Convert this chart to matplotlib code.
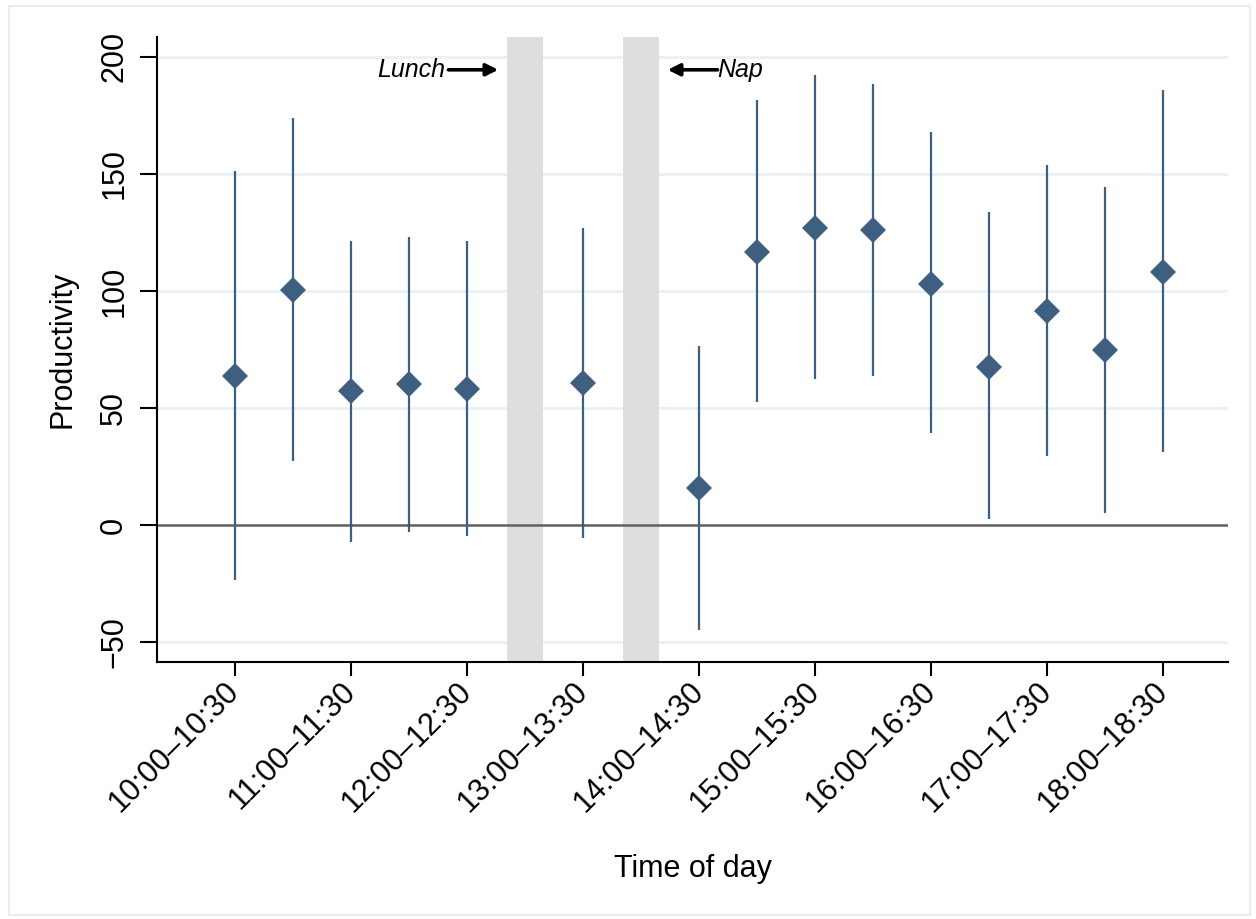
import numpy as np
import matplotlib
matplotlib.use("Agg")
import matplotlib.pyplot as plt
from matplotlib.patches import Rectangle

# half-hour slots (hours as floats); 12:30 and 13:30 have no estimate
slot = [10.0, 10.5, 11.0, 11.5, 12.0, 13.0, 14.0, 14.5, 15.0, 15.5,
        16.0, 16.5, 17.0, 17.5, 18.0]
coef = [63.7, 100.4, 57.3, 60.3, 58.1, 60.7, 15.8, 116.7, 126.9, 126.1,
        103.0, 67.5, 91.5, 74.8, 108.1]
ci_hi = [151.3, 173.9, 121.4, 123.1, 121.4, 126.9, 76.5, 181.6, 192.3, 188.5,
         168.0, 133.8, 153.8, 144.4, 185.9]
ci_lo = [-23.5, 27.4, -7.3, -3.0, -4.7, -5.6, -44.9, 52.6, 62.4, 63.7,
         39.3, 2.6, 29.5, 5.1, 31.2]

tick_pos = [10, 11, 12, 13, 14, 15, 16, 17, 18]
tick_lbl = ["10:00\u201310:30", "11:00\u201311:30", "12:00\u201312:30",
            "13:00\u201313:30", "14:00\u201314:30", "15:00\u201315:30",
            "16:00\u201316:30", "17:00\u201317:30", "18:00\u201318:30"]
breaks = [12.5, 13.5]   # lunch, nap

navy = "#3e5f80"
plt.rcParams["font.family"] = ["Liberation Sans", "DejaVu Sans"]
fs = 22

fig = plt.figure(figsize=(12.56, 9.19), dpi=100)
fig.patches.append(Rectangle((0.007, 0.004), 0.988, 0.99, transform=fig.transFigure,
                             fill=False, edgecolor="#e6eef1", linewidth=1.5))
ax = fig.add_axes([0.125, 0.2797, 0.8527, 0.68])

ax.set_xlim(9.328, 18.56)
ax.set_ylim(-58.5, 208.5)

for y in [-50, 50, 100, 150, 200]:
    ax.axhline(y, color="#eaf1f3", linewidth=2, zorder=0)
ax.axhline(0, color="#606060", linewidth=1.8, zorder=1)

for b in breaks:
    ax.axvspan(b - 0.155, b + 0.155, color="#dedede", linewidth=0, zorder=0.5)

ax.vlines(slot, ci_lo, ci_hi, color=navy, linewidth=1.6, zorder=2)
ax.plot(slot, coef, linestyle="none", marker="D", markersize=13,
        color=navy, markeredgewidth=0, zorder=3)

# annotations
arrow = dict(arrowstyle="-|>", color="black", lw=2.6,
             mutation_scale=18, shrinkA=0, shrinkB=0)
ax.annotate("", xy=(12.27, 194.5), xytext=(11.84, 194.5), arrowprops=arrow)
ax.text(11.81, 194.5, "Lunch", style="italic", fontsize=18, ha="right", va="center")
ax.annotate("", xy=(13.73, 194.5), xytext=(14.16, 194.5), arrowprops=arrow)
ax.text(14.155, 194.5, "Nap", style="italic", fontsize=18, ha="left", va="center")

ax.set_yticks([-50, 0, 50, 100, 150, 200])
ax.set_yticklabels(["\u221250", "0", "50", "100", "150", "200"],
                   rotation=90, va="center", fontsize=fs)
ax.set_xticks(tick_pos)
ax.set_xticklabels(tick_lbl, rotation=45, ha="right", va="center",
                   rotation_mode="anchor", fontsize=fs)
ax.tick_params(axis="y", length=12, width=1.5, pad=8)
ax.tick_params(axis="x", length=10, width=1.5, pad=8)

for s in ["top", "right"]:
    ax.spines[s].set_visible(False)
for s in ["left", "bottom"]:
    ax.spines[s].set_linewidth(1.5)

ax.set_ylabel("Productivity", fontsize=fs, labelpad=16)
ax.set_xlabel("Time of day", fontsize=fs, labelpad=26)

fig.savefig("out.png", dpi=100)
